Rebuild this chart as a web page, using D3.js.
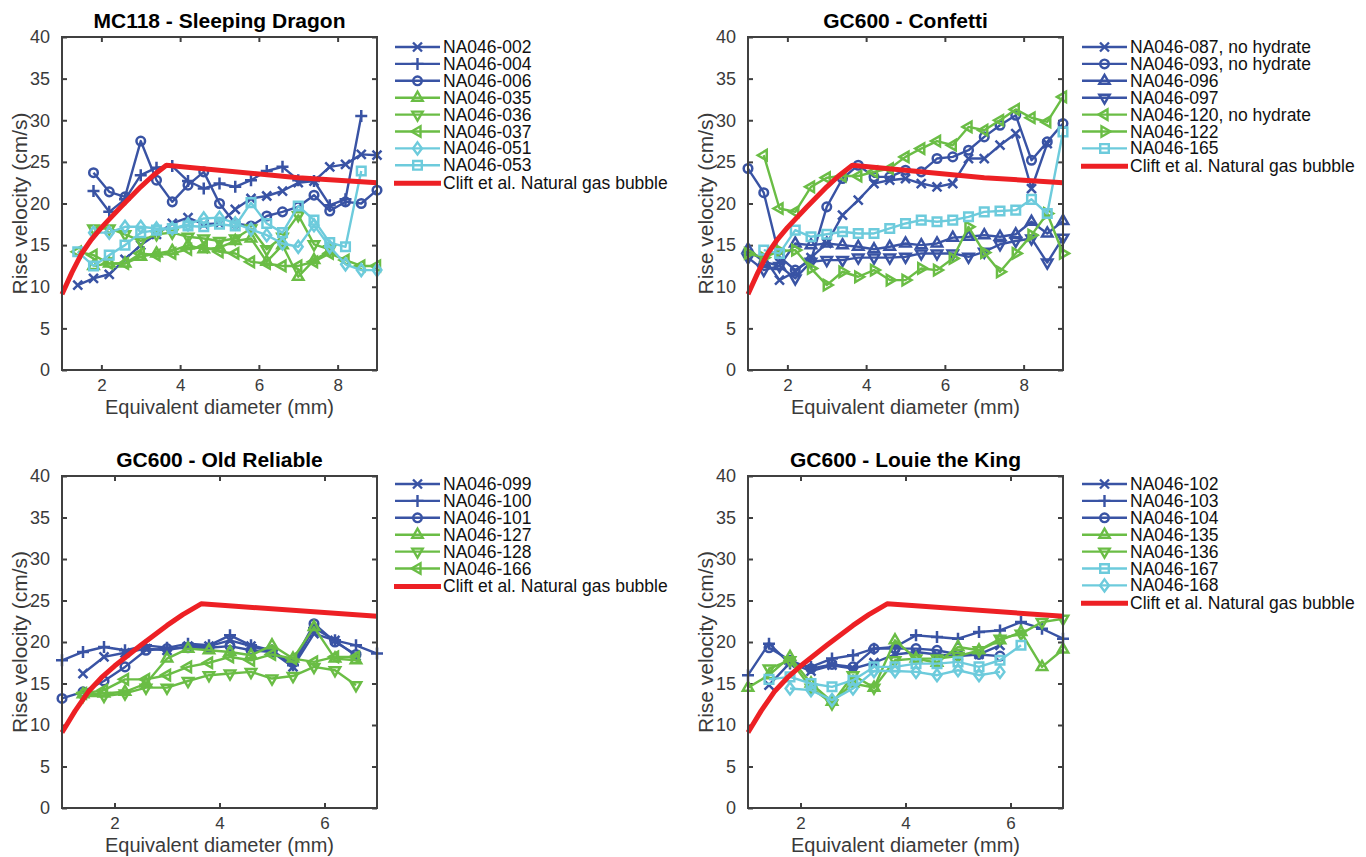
<!DOCTYPE html>
<html><head><meta charset="utf-8">
<script src="https://cdn.jsdelivr.net/npm/d3@7"></script>
<style>body{margin:0;background:#fff}svg{display:block}text{font-family:"Liberation Sans",Arial,Helvetica,sans-serif}</style>
</head><body>
<script>
// ---------- DATA ----------
const cliftD = [1.0, 1.25, 1.5, 1.75, 2.0, 2.5, 3.0, 3.3, 3.65, 7.0, 9.0];
const cliftV = [9.1, 11.7, 14.0, 15.7, 17.1, 19.6, 22.0, 23.3, 24.6, 23.1, 22.5];
const cliftName = "Clift et al. Natural gas bubble";

// Panel 1: MC118 - Sleeping Dragon
const p1Title = "MC118 - Sleeping Dragon";
const p1Grid = [1.4,1.8,2.2,2.6,3.0,3.4,3.8,4.2,4.6,5.0,5.4,5.8,6.2,6.6,7.0,7.4,7.8,8.2,8.6,9.0];
const p1Names = ["NA046-002","NA046-004","NA046-006","NA046-035","NA046-036","NA046-037","NA046-051","NA046-053"];
const p1Markers = ["x","+","o","^","v","<","d","s"];
const p1Groups = ["b","b","b","g","g","g","c","c"];
const p1_002 = [10.2,11.0,11.5,13.3,15.0,16.3,17.6,18.3,17.5,17.6,19.3,20.6,20.9,21.5,22.5,22.7,24.4,24.7,25.9,25.8];
const p1_004 = [null,21.5,19.0,20.5,23.4,24.3,24.5,22.7,21.8,22.4,22.0,22.8,23.9,24.4,22.8,22.7,19.8,20.5,30.5,null];
const p1_006 = [null,23.7,21.4,20.8,27.5,22.8,20.2,22.2,23.8,20.0,17.6,17.3,18.5,19.0,19.6,21.0,19.1,20.2,20.0,21.6];
const p1_035 = [null,12.5,12.8,12.8,13.6,14.0,14.3,15.0,14.5,14.7,15.5,15.8,13.0,15.0,11.2,13.2,14.3,null,null,null];
const p1_036 = [null,17.0,17.0,16.3,15.5,16.3,16.5,16.0,15.8,15.5,15.8,17.0,14.5,16.0,18.6,15.1,14.5,null,null,null];
const p1_037 = [14.2,13.8,12.8,12.8,14.0,13.8,14.0,14.5,14.8,14.2,14.0,13.0,12.8,12.5,12.5,13.0,14.0,13.2,12.5,12.5];
const p1_051 = [null,16.5,16.5,17.2,17.2,17.0,17.0,17.5,18.2,18.3,17.6,16.9,16.2,15.2,14.8,17.4,14.8,12.7,12.0,12.0];
const p1_053 = [14.2,12.5,13.8,15.0,16.5,16.8,17.0,17.3,17.2,17.5,17.3,20.1,17.6,16.5,19.7,18.0,15.3,14.8,23.9,null];

// Panel 2: GC600 - Confetti
const p2Title = "GC600 - Confetti";
const p2Grid = [1.0,1.4,1.8,2.2,2.6,3.0,3.4,3.8,4.2,4.6,5.0,5.4,5.8,6.2,6.6,7.0,7.4,7.8,8.2,8.6,9.0];
const p2Names = ["NA046-087, no hydrate","NA046-093, no hydrate","NA046-096","NA046-097","NA046-120, no hydrate","NA046-122","NA046-165"];
const p2Markers = ["x","o","^","v","<",">","s"];
const p2Groups = ["b","b","b","b","g","g","c"];
const p2_087 = [14.0,13.5,10.8,11.8,13.5,15.2,18.6,20.4,22.4,22.8,23.0,22.4,22.0,22.4,25.4,25.4,27.0,28.4,21.8,27.2,null];
const p2_093 = [24.2,21.3,13.6,12.0,13.2,19.6,23.0,24.6,23.2,23.2,24.0,23.8,25.4,25.6,26.4,28.0,29.4,30.6,25.2,27.4,29.6];
const p2_096 = [14.5,13.0,12.5,15.2,15.0,15.2,15.0,14.8,14.5,14.8,15.2,15.0,15.2,15.9,16.0,16.2,16.0,16.3,17.8,16.4,17.9];
const p2_097 = [13.5,12.0,12.5,11.0,13.0,13.2,13.2,13.5,13.5,13.5,13.6,14.0,14.0,14.0,13.6,14.2,15.1,15.5,15.8,12.9,15.9];
const p2_120 = [null,25.8,19.4,19.0,22.0,23.1,23.3,23.3,23.8,24.2,25.6,26.6,27.5,27.0,29.2,28.8,30.0,31.3,30.3,29.8,32.8];
const p2_122 = [14.0,13.5,14.3,14.4,12.2,10.2,11.8,11.2,12.0,10.8,10.8,12.2,12.0,13.4,17.2,14.1,11.8,14.0,16.2,18.8,14.0];
const p2_165 = [null,14.4,14.0,16.8,16.0,16.3,16.6,16.4,16.4,17.0,17.6,18.0,17.8,18.0,18.4,19.0,19.1,19.2,20.5,18.8,28.6];

// Panel 3: GC600 - Old Reliable
const p3Title = "GC600 - Old Reliable";
const p3Grid = [1.0,1.4,1.8,2.2,2.6,3.0,3.4,3.8,4.2,4.6,5.0,5.4,5.8,6.2,6.6,7.0];
const p3Names = ["NA046-099","NA046-100","NA046-101","NA046-127","NA046-128","NA046-166"];
const p3Markers = ["x","+","o","^","v","<"];
const p3Groups = ["b","b","b","g","g","g"];
const p3_099 = [null,16.2,18.2,18.7,19.2,19.0,19.5,19.5,20.2,19.5,18.8,17.0,21.0,20.2,18.3,null];
const p3_100 = [17.8,18.8,19.4,19.0,19.6,19.3,19.8,19.6,20.8,19.6,19.0,17.2,21.7,20.2,19.6,18.6];
const p3_101 = [13.2,14.0,15.3,17.0,19.0,19.2,19.3,19.3,19.5,19.0,18.8,17.5,22.2,20.0,18.5,null];
const p3_127 = [null,13.7,13.8,14.0,15.0,18.0,19.2,19.0,18.8,18.4,19.6,18.0,21.8,18.0,17.8,null];
const p3_128 = [null,13.5,13.5,13.8,14.5,14.5,15.3,16.0,16.2,16.4,15.6,15.9,17.0,16.6,14.8,null];
const p3_166 = [null,13.8,14.2,15.5,15.5,16.0,17.0,17.5,18.2,17.8,18.5,18.0,17.6,18.2,18.2,null];

// Panel 4: GC600 - Louie the King
const p4Title = "GC600 - Louie the King";
const p4Grid = [1.0,1.4,1.8,2.2,2.6,3.0,3.4,3.8,4.2,4.6,5.0,5.4,5.8,6.2,6.6,7.0];
const p4Names = ["NA046-102","NA046-103","NA046-104","NA046-135","NA046-136","NA046-167","NA046-168"];
const p4Markers = ["x","+","o","^","v","s","d"];
const p4Groups = ["b","b","b","g","g","c","c"];
const p4_102 = [null,14.8,17.5,16.5,17.2,16.8,17.5,18.5,18.8,18.5,18.3,18.5,19.6,null,null,null];
const p4_103 = [16.0,19.8,17.4,17.0,18.0,18.4,19.2,19.4,20.8,20.6,20.4,21.2,21.4,22.4,21.6,20.4];
const p4_104 = [null,19.3,17.8,16.8,17.3,17.0,19.2,19.2,19.2,19.0,18.5,18.5,18.3,null,null,null];
const p4_135 = [14.5,16.0,18.2,15.0,12.8,15.0,14.5,20.2,18.0,17.5,19.4,19.0,20.2,21.2,17.0,19.1];
const p4_136 = [null,16.8,17.8,14.5,12.6,16.0,14.5,17.8,18.0,18.0,18.3,19.0,20.4,21.0,22.4,22.8];
const p4_167 = [null,15.5,15.8,15.0,14.6,15.4,17.0,17.0,17.4,17.4,17.6,17.0,17.8,19.6,null,null];
const p4_168 = [null,null,14.4,14.2,13.0,14.4,16.5,16.5,16.4,16.0,16.6,16.0,16.4,null,null,null];

const xTicksA = [2,4,6,8];
const xTicksB = [2,4,6];
const yTicks = [0,5,10,15,20,25,30,35,40];
const xLabel = "Equivalent diameter (mm)";
const yLabel = "Rise velocity (cm/s)";

// ---------- STYLE ----------
const groupColor = {b:"#3953a4", g:"#6abd45", c:"#6dcbdc"};
const red = "#ed2024";
const axisColor = "#404040";

const panels = [
  {title:p1Title, grid:p1Grid, names:p1Names, markers:p1Markers, groups:p1Groups,
   vals:[p1_002,p1_004,p1_006,p1_035,p1_036,p1_037,p1_051,p1_053], xMax:9, xTicks:xTicksA,
   L:62, R:377, T:37, B:370, legX:395},
  {title:p2Title, grid:p2Grid, names:p2Names, markers:p2Markers, groups:p2Groups,
   vals:[p2_087,p2_093,p2_096,p2_097,p2_120,p2_122,p2_165], xMax:9, xTicks:xTicksA,
   L:748, R:1063, T:37, B:370, legX:1082},
  {title:p3Title, grid:p3Grid, names:p3Names, markers:p3Markers, groups:p3Groups,
   vals:[p3_099,p3_100,p3_101,p3_127,p3_128,p3_166], xMax:7, xTicks:xTicksB,
   L:62, R:377, T:476, B:808, legX:395},
  {title:p4Title, grid:p4Grid, names:p4Names, markers:p4Markers, groups:p4Groups,
   vals:[p4_102,p4_103,p4_104,p4_135,p4_136,p4_167,p4_168], xMax:7, xTicks:xTicksB,
   L:748, R:1063, T:476, B:808, legX:1082}
];

const markerPath = {
  "x":"M-4.5,-4.5L4.5,4.5M-4.5,4.5L4.5,-4.5",
  "+":"M-6,0H6M0,-6V6",
  "o":"M4.3,0A4.3,4.3 0 1,1 -4.3,0A4.3,4.3 0 1,1 4.3,0Z",
  "^":"M0,-6L5.2,3L-5.2,3Z",
  "v":"M0,6L5.2,-3L-5.2,-3Z",
  "<":"M-6,0L3,-5.2L3,5.2Z",
  ">":"M6,0L-3,-5.2L-3,5.2Z",
  "d":"M0,-6L4.4,0L0,6L-4.4,0Z",
  "s":"M-4.3,-4.3H4.3V4.3H-4.3Z"
};

const svg = d3.select("body").append("svg").attr("width",1366).attr("height",857);

panels.forEach((p, pi) => {
  const x = d3.scaleLinear().domain([1, p.xMax]).range([p.L, p.R]);
  const y = d3.scaleLinear().domain([0, 40]).range([p.B, p.T]);
  const g = svg.append("g");
  const cx = (p.L + p.R) / 2;

  // title
  g.append("text").attr("x", cx).attr("y", p.T - 9).attr("text-anchor","middle")
    .attr("font-size", 21).attr("font-weight","bold").attr("fill","#000").text(p.title);

  // axes via d3
  const fmt = d3.format("d");
  const yAxisL = d3.axisLeft(y).tickValues(yTicks).tickFormat(fmt).tickSize(-5).tickPadding(12);
  const yAxisR = d3.axisRight(y).tickValues(yTicks).tickSize(-5).tickFormat("");
  const xAxisB = d3.axisBottom(x).tickValues(p.xTicks).tickFormat(fmt).tickSize(-5).tickPadding(9);
  const xAxisT = d3.axisTop(x).tickValues(p.xTicks).tickSize(-5).tickFormat("");
  const styleAx = sel => {
    sel.select(".domain").remove();
    sel.selectAll("line").attr("stroke", axisColor).attr("stroke-width", 2);
    sel.selectAll("text").attr("fill", "#3a3a3a").attr("font-size", 18)
      .style("font-family", '"Liberation Sans",Arial,sans-serif');
  };
  g.append("g").attr("transform",`translate(${p.L},0)`).call(yAxisL).call(styleAx);
  g.append("g").attr("transform",`translate(${p.R},0)`).call(yAxisR).call(styleAx);
  g.append("g").attr("transform",`translate(0,${p.B})`).call(xAxisB).call(styleAx)
    .selectAll("text").attr("font-size", 17);
  g.append("g").attr("transform",`translate(0,${p.T})`).call(xAxisT).call(styleAx);

  // axis labels
  g.append("text").attr("x", cx).attr("y", p.B + 44).attr("text-anchor","middle")
    .attr("font-size", 20).attr("fill","#3a3a3a").text(xLabel);
  g.append("text").attr("transform",`translate(${p.L - 35},${(p.T + p.B) / 2}) rotate(-90)`)
    .attr("text-anchor","middle").attr("font-size", 21).attr("fill","#3a3a3a").text(yLabel);

  // data series
  const line = d3.line().defined(d => d[1] != null).x(d => x(d[0])).y(d => y(d[1]));
  p.vals.forEach((vals, si) => {
    const col = groupColor[p.groups[si]];
    const pts = p.grid.map((d, i) => [d, vals[i]]);
    g.append("path").attr("d", line(pts)).attr("fill","none").attr("stroke", col)
      .attr("stroke-width", 2.4).attr("stroke-linejoin","round");
    g.selectAll(null).data(pts.filter(d => d[1] != null)).enter().append("path")
      .attr("transform", d => `translate(${x(d[0])},${y(d[1])})`)
      .attr("d", markerPath[p.markers[si]]).attr("fill","none").attr("stroke", col)
      .attr("stroke-width", 2.5);
  });

  // Clift curve
  const cpts = cliftD.map((d, i) => [d, cliftV[i]]).filter(d => d[0] <= p.xMax + 1e-9);
  g.append("path").attr("d", line(cpts)).attr("fill","none").attr("stroke", red)
    .attr("stroke-width", 5).attr("stroke-linejoin","round");

  // box
  g.append("rect").attr("x", p.L).attr("y", p.T).attr("width", p.R - p.L).attr("height", p.B - p.T)
    .attr("fill","none").attr("stroke", axisColor).attr("stroke-width", 2);

  // legend
  const rowH = 16.9;
  const ly0 = p.T + (pi < 2 ? 10 : 8);
  const lx0 = p.legX, lx1 = p.legX + 45;
  p.names.forEach((nm, si) => {
    const col = groupColor[p.groups[si]];
    const yy = ly0 + si * rowH;
    g.append("line").attr("x1", lx0).attr("x2", lx1).attr("y1", yy).attr("y2", yy)
      .attr("stroke", col).attr("stroke-width", 2.4);
    g.append("path").attr("transform",`translate(${(lx0 + lx1) / 2},${yy})`)
      .attr("d", markerPath[p.markers[si]]).attr("fill","none").attr("stroke", col).attr("stroke-width", 2.4);
    g.append("text").attr("x", lx1 + 3).attr("y", yy + 6).attr("font-size", 17.5).attr("fill","#111").text(nm);
  });
  const yy = ly0 + p.names.length * rowH + 1;
  g.append("line").attr("x1", lx0 - 1).attr("x2", lx1 + 1).attr("y1", yy).attr("y2", yy)
    .attr("stroke", red).attr("stroke-width", 5);
  g.append("text").attr("x", lx1 + 3).attr("y", yy + 6).attr("font-size", 17.5).attr("fill","#111").text(cliftName);
});
</script>
</body></html>
